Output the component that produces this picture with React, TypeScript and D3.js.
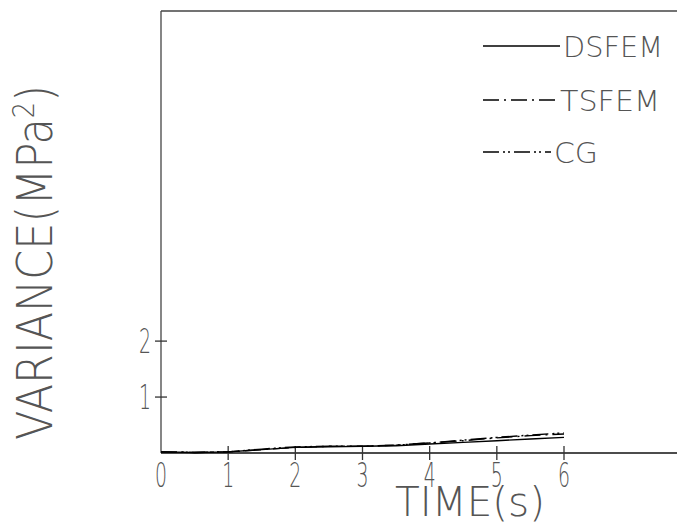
import React from "react";
import * as d3 from "d3";

const time = [0, 0.5, 1, 1.5, 2, 2.5, 3, 3.5, 4, 4.5, 5, 5.5, 6];
const dsfem = [0.02, 0.01, 0.02, 0.06, 0.1, 0.11, 0.12, 0.13, 0.16, 0.19, 0.22, 0.25, 0.28];
const tsfem = [0.02, 0.01, 0.02, 0.06, 0.1, 0.12, 0.12, 0.14, 0.18, 0.22, 0.27, 0.31, 0.34];
const cg = [0.02, 0.01, 0.02, 0.07, 0.11, 0.12, 0.12, 0.14, 0.18, 0.23, 0.28, 0.32, 0.36];
const xTicks = [0, 1, 2, 3, 4, 5, 6];
const yTicks = [1, 2];
const seriesNames = ["DSFEM", "TSFEM", "CG"];
const dashes = ["none", "16,5,2,5", "16,4,2,3,2,4"];

const W = 677, H = 523;
const FONT = "'DejaVu Sans', sans-serif";
const TXT = "#555";

export default function App() {
  const x = d3.scaleLinear().domain([0, 6]).range([161, 564]);
  const y = d3.scaleLinear().domain([0, 7.9]).range([453, 11]);
  const series = [dsfem, tsfem, cg];
  const line = d3.line<number>().x((_, i) => x(time[i])).y((d) => y(d));
  const legendY = [46, 100, 152];
  const legendX2 = [560, 557, 551];
  const legendTextW = [100, 100, 44];

  return (
    <svg width={W} height={H} style={{ position: "absolute", left: 0, top: 0 }}>
      <rect width={W} height={H} fill="#fff" />
      <line x1={161} x2={W} y1={y(7.9)} y2={y(7.9)} stroke="#444" strokeWidth={1.3} />
      <line x1={161} x2={161} y1={y(7.9)} y2={y(0)} stroke="#444" strokeWidth={1.3} />
      <line x1={161} x2={W} y1={y(0)} y2={y(0)} stroke="#111" strokeWidth={1.3} />
      {xTicks.map((t) => (
        <g key={"xt" + t}>
          {t > 0 && <line x1={x(t)} x2={x(t)} y1={y(0) - 7} y2={y(0) + 7} stroke="#333" strokeWidth={1.3} />}
          <text x={x(t)} y={487} textAnchor="middle" fontFamily={FONT} fontWeight={200} fontSize={33} fill={TXT}
            textLength={12} lengthAdjust="spacingAndGlyphs">{t}</text>
        </g>
      ))}
      {yTicks.map((t) => (
        <g key={"yt" + t}>
          <line x1={155} x2={167} y1={y(t)} y2={y(t)} stroke="#333" strokeWidth={1.3} />
          <text x={145} y={y(t) + 12} textAnchor="middle" fontFamily={FONT} fontWeight={200} fontSize={33} fill={TXT}
            textLength={12} lengthAdjust="spacingAndGlyphs">{t}</text>
        </g>
      ))}
      {series.map((s, i) => (
        <path key={"s" + i} d={line(s) || ""} fill="none" stroke="#000" strokeWidth={1.4}
          strokeDasharray={dashes[i]} />
      ))}
      {seriesNames.map((n, i) => (
        <g key={"lg" + n}>
          <line x1={483} x2={legendX2[i]} y1={legendY[i]} y2={legendY[i]} stroke="#000" strokeWidth={1.4}
            strokeDasharray={dashes[i]} />
          <text x={legendX2[i] + 3} y={legendY[i] + 11} fontFamily={FONT} fontWeight={200} fontSize={28} fill={TXT}
            textLength={legendTextW[i]} lengthAdjust="spacingAndGlyphs">{n}</text>
        </g>
      ))}
      <text x={395} y={516} fontFamily={FONT} fontWeight={200} fontSize={41} fill={TXT}
        textLength={150} lengthAdjust="spacingAndGlyphs">TIME(s)</text>
      <text transform="translate(52,440) rotate(-90)" x={0} y={0} fontFamily={FONT} fontWeight={200} fontSize={50} fill={TXT}
        textLength={355} lengthAdjust="spacingAndGlyphs">
        VARIANCE(MPa<tspan dy={-18} fontSize={30}>2</tspan><tspan dy={18}>)</tspan>
      </text>
    </svg>
  );
}
